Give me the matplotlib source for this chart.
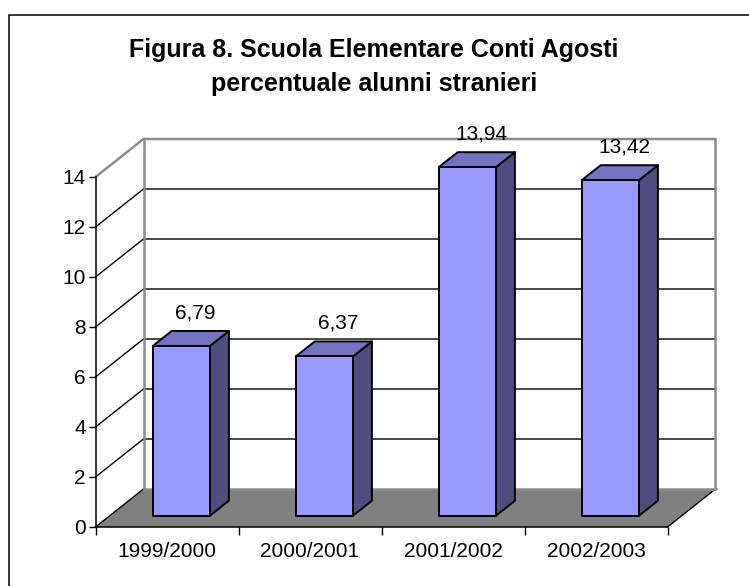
import matplotlib
matplotlib.use("Agg")
import matplotlib.pyplot as plt
from matplotlib.patches import Rectangle

plt.rcParams['font.family'] = ['Liberation Sans', 'DejaVu Sans']

years = ["1999/2000", "2000/2001", "2001/2002", "2002/2003"]
values = [6.79, 6.37, 13.94, 13.42]
labels = ["6,79", "6,37", "13,94", "13,42"]
yticks = [0, 2, 4, 6, 8, 10, 12, 14]

W, H = 749, 586
fig = plt.figure(figsize=(W / 100, H / 100), dpi=100)

# outer chart frame, only top and left show in the picture
fig.add_artist(Rectangle((9 / W, -0.1), 1, 1.1 - 15 / H, transform=fig.transFigure,
                         fc="white", ec="black", lw=1.1, zorder=-1))

ax = fig.add_axes([95.5 / W, 1 - 527 / H, 572 / W, 350 / H])
ax.set_xlim(0, 4)
ax.set_ylim(0, 14)
ax.patch.set_visible(False)
for s in ["top", "right"]:
    ax.spines[s].set_visible(False)
ax.spines["left"].set_linewidth(1.1)
ax.spines["bottom"].set_linewidth(1.1)

# depth of the box and of the bars, in data units
dx = 48 / 143
dy = 38 / 25
bx = 14.3 / 143
by = 11.3 / 25
bar_dx = 19 / 143
bar_dy = 15 / 25
bw = 0.4

# floor
ax.fill([0, 4, 4 + dx, dx], [0, 0, dy, dy], fc="#808080", ec="none", clip_on=False, zorder=1)
ax.plot([4, 4 + dx], [0, dy], color="black", lw=1, clip_on=False, zorder=2)
ax.plot([0, dx], [0, dy], color="black", lw=1, clip_on=False, zorder=2)

# grid on the walls
for t in yticks[1:-1]:
    ax.plot([0, dx, 4 + dx], [t, t + dy, t + dy], color="black", lw=1, clip_on=False, zorder=2)

# wall edges
ax.plot([0, dx, 4 + dx, 4 + dx], [14, 14 + dy, 14 + dy, dy], color="#8c8c8c", lw=1.8,
        clip_on=False, zorder=2, solid_joinstyle="miter")
ax.plot([dx, dx], [dy, 14 + dy], color="#8c8c8c", lw=1.8, clip_on=False, zorder=2)
ax.plot([dx, 4 + dx], [dy, dy], color="#8c8c8c", lw=1.8, clip_on=False, zorder=2)

# bars
for i, v in enumerate(values):
    x0 = i + 0.5 - bw / 2 + bx
    x1 = x0 + bw
    y0 = by
    y1 = by + v
    ax.fill([x1, x1 + bar_dx, x1 + bar_dx, x1], [y0, y0 + bar_dy, y1 + bar_dy, y1],
            fc="#4d4d80", ec="black", lw=1.4, clip_on=False, zorder=3, joinstyle="round")
    ax.fill([x0, x0 + bar_dx, x1 + bar_dx, x1], [y1, y1 + bar_dy, y1 + bar_dy, y1],
            fc="#7373bf", ec="black", lw=1.4, clip_on=False, zorder=3, joinstyle="round")
    ax.fill([x0, x1, x1, x0], [y0, y0, y1, y1],
            fc="#9999ff", ec="black", lw=1.4, clip_on=False, zorder=4, joinstyle="round")
    ax.annotate(labels[i], (i + 0.5 + bx, y1), xytext=(10, 24), textcoords="offset points",
                ha="center", va="center", fontsize=15, color="black", zorder=5,
                annotation_clip=False)

ax.set_yticks(yticks)
ax.set_xticks([0, 1, 2, 3, 4])
ax.set_xticklabels([])
ax.set_xticks([0.5, 1.5, 2.5, 3.5], minor=True)
ax.set_xticklabels(years, minor=True, fontsize=15)
ax.tick_params(axis="x", which="major", length=6, width=1)
ax.tick_params(axis="x", which="minor", length=0, pad=11)
ax.tick_params(axis="y", length=5, width=1, labelsize=15, pad=2)

fig.text(374 / W, 1 - 50 / H, "Figura 8. Scuola Elementare Conti Agosti", ha="center", va="center",
         fontsize=18, fontweight="bold")
fig.text(374 / W, 1 - 84 / H, "percentuale alunni stranieri", ha="center", va="center",
         fontsize=18, fontweight="bold")

fig.savefig("out.png", dpi=100)
